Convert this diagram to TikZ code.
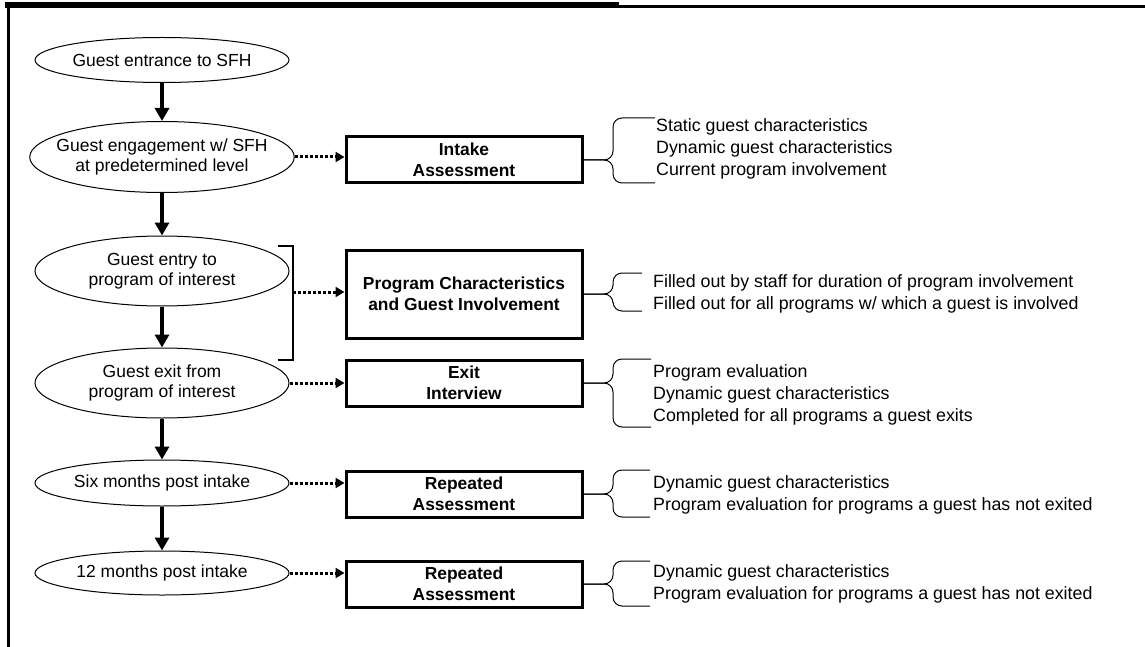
\documentclass[tikz,border=0pt]{standalone}
\usepackage{fontspec}
\setmainfont{Liberation Sans}
\usetikzlibrary{shapes.geometric,arrows.meta}

\begin{document}
\begin{tikzpicture}[x=1pt,y=-1pt,
stage/.style={ellipse,draw,line width=1pt,fill=white,minimum width=254pt,inner xsep=-12pt,inner ysep=0pt,align=center,font=\fontsize{17.5}{20}\selectfont},
sheet/.style={draw,line width=3pt,minimum width=236pt,minimum height=46pt,inner sep=0pt,align=center,font=\bfseries\fontsize{17.4}{21}\selectfont},
note/.style={anchor=west,align=left,inner sep=0pt,font=\fontsize{17.8}{22}\selectfont},
flow/.style={line width=4pt,-{Triangle[length=13pt,width=14pt]}},
feed/.style={line width=3pt,dash pattern=on 3pt off 2pt,-{Triangle[length=9pt,width=10pt]}},
curly/.style={line width=1pt,rounded corners=9pt}]

\useasboundingbox (0,0) rectangle (1145,647);

% frame
\fill (5,2) rectangle (619,8);
\fill (619,5.5) rectangle (1145,8);
\fill (7,2) rectangle (10,647);

% stages of the guest
\node[stage,minimum height=45pt] (entrance) at (162,60) {Guest entrance to SFH};
\node[stage,minimum height=71pt] (engage) at (162,157) {Guest engagement w/ SFH\\at predetermined level};
\node[stage,minimum height=70pt] (entry) at (162,271) {Guest entry to\\program of interest};
\node[stage,minimum height=70pt] (exit) at (162,383) {Guest exit from\\program of interest};
\node[stage,minimum height=46pt] (six) at (162,483) {Six months post intake};
\node[stage,minimum height=44pt] (twelve) at (162,573) {12 months post intake};

\draw[flow] (entrance) -- (engage);
\draw[flow] (engage) -- (entry);
\draw[flow] (entry) -- (exit);
\draw[flow] (exit) -- (six);
\draw[flow] (six) -- (twelve);

% instruments
\node[sheet] (intake) at (464,160) {Intake\\Assessment};
\node[sheet,minimum height=88pt] (involve) at (464,294) {Program Characteristics\\and Guest Involvement};
\node[sheet] (exitint) at (464,383) {Exit\\Interview};
\node[sheet] (repsix) at (464,494) {Repeated\\Assessment};
\node[sheet] (reptwelve) at (464,584) {Repeated\\Assessment};

\draw[line width=2pt] (278,246) -- (293,246) -- (293,360) -- (278,360);
\coordinate (span) at (293,292);

\draw[feed] (engage.east) -- (engage.east -| intake.west);
\draw[feed] (span) -- (span -| involve.west);
\draw[feed] (exit.east) -- (exit.east -| exitint.west);
\draw[feed] (six.east) -- (six.east -| repsix.west);
\draw[feed] (twelve.east) -- (twelve.east -| reptwelve.west);

% contents
\node[note] (intakenote) at (656,149) {Static guest characteristics\\Dynamic guest characteristics\\Current program involvement};
\node[note] (involvenote) at (653,294) {Filled out by staff for duration of program involvement\\Filled out for all programs w/ which a guest is involved};
\node[note] (exitnote) at (653,395) {Program evaluation\\Dynamic guest characteristics\\Completed for all programs a guest exits};
\node[note] (sixnote) at (653,494.5) {Dynamic guest characteristics\\Program evaluation for programs a guest has not exited};
\node[note] (twelvenote) at (653,584) {Dynamic guest characteristics\\Program evaluation for programs a guest has not exited};

\draw[curly] (655,118) -- (613,118) -- (613,160) -- (intake.east);
\draw[curly] (655,183) -- (613,183) -- (613,160) -- (intake.east);
\draw[curly] (642,273) -- (613,273) -- (613,294) -- (involve.east);
\draw[curly] (642,311) -- (613,311) -- (613,294) -- (involve.east);
\draw[curly] (651,359) -- (613,359) -- (613,383) -- (exitint.east);
\draw[curly] (651,427) -- (613,427) -- (613,383) -- (exitint.east);
\draw[curly] (650,470) -- (613,470) -- (613,494) -- (repsix.east);
\draw[curly] (650,517) -- (613,517) -- (613,494) -- (repsix.east);
\draw[curly] (650,561) -- (613,561) -- (613,584) -- (reptwelve.east);
\draw[curly] (650,606) -- (613,606) -- (613,584) -- (reptwelve.east);

\end{tikzpicture}
\end{document}
